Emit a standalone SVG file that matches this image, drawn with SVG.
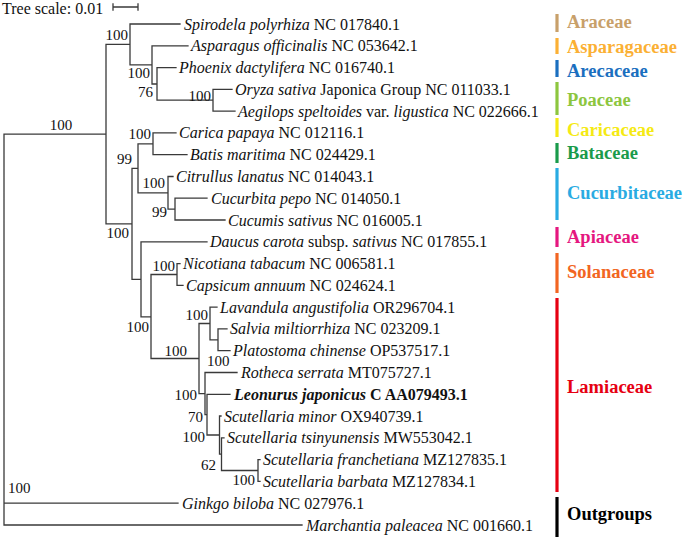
<svg xmlns="http://www.w3.org/2000/svg" width="685" height="538" viewBox="0 0 685 538">
<style>
.br{fill:none;stroke:#3a3a3a;stroke-width:1.3;stroke-linecap:square}
.lf{font-family:"Liberation Serif","Times New Roman",serif;font-size:16px;fill:#111}
.sp{font-style:italic}
.bs{font-family:"Liberation Serif","Times New Roman",serif;font-size:15px;fill:#111}
.fam{font-family:"Liberation Serif","Times New Roman",serif;font-size:18.5px;font-weight:bold}
.bar{stroke-width:3.2}
</style>
<rect width="685" height="538" fill="#fff"/>
<g id="scale">
<text class="bs" x="2" y="14" style="font-size:16px">Tree scale: 0.01</text>
<path class="br" d="M113,7H138M113,4V10M138,4V10"/>
</g>
<g id="connectors">
<path class="br" d="M4,134.1V525M4,134.1H106M4,503.2H178M4,525H302
M106,44.4V223.8M106,44.4H130M106,223.8H132
M130,24V64.9M130,24H180M130,64.9H152
M152,45.8V84M152,45.8H188M152,84H157
M157,67.6V100.2M157,67.6H176M157,100.2H213
M213,89.3V111.1M213,89.3H232M213,111.1H235
M132,168.3V279.3M132,168.3H138M132,279.3H141
M138,143.8V192.8M138,143.8H153M138,192.8H168
M153,132.9V154.7M153,132.9H176M153,154.7H187
M168,176.5V209.1M168,176.5H173M168,209.1H175
M175,198.2V220M175,198.2H207M175,220H225
M141,241.8V316.8M141,241.8H207M141,316.8H151
M151,274.5V358.5M151,274.5H177M151,358.5H199
M177,263.6V285.4M177,263.6H180M177,285.4H183
M199,323.5V393.6M199,323.5H210M199,393.6H205
M210,307.1V339.8M210,307.1H217M210,339.8H218
M218,328.9V350.7M218,328.9H227M218,350.7H230
M205,372.5V414.7M205,372.5H237M205,414.7H207
M207,394.3V435M207,394.3H230M207,435H219.5
M219.5,416V454.1M219.5,416H221M219.5,454.1H221.5
M221.5,437.8V470.5M221.5,437.8H224M221.5,470.5H258
M258,459.6V481.4M258,459.6H260M258,481.4H260"/>
</g>
<g id="supports" class="bs">
<text x="61" y="130" text-anchor="middle">100</text>
<text x="128" y="40" text-anchor="end">100</text>
<text x="150" y="78" text-anchor="end">100</text>
<text x="153" y="97" text-anchor="end">76</text>
<text x="211" y="101" text-anchor="end">100</text>
<text x="151" y="139" text-anchor="end">100</text>
<text x="132" y="164" text-anchor="end">99</text>
<text x="165" y="188" text-anchor="end">100</text>
<text x="167" y="217" text-anchor="end">99</text>
<text x="129" y="238" text-anchor="end">100</text>
<text x="175" y="271" text-anchor="end">100</text>
<text x="149" y="332" text-anchor="end">100</text>
<text x="187" y="356" text-anchor="end">100</text>
<text x="208" y="320" text-anchor="end">100</text>
<text x="207" y="366">100</text>
<text x="197" y="400" text-anchor="end">100</text>
<text x="203" y="422" text-anchor="end">70</text>
<text x="205" y="442" text-anchor="end">100</text>
<text x="216" y="470" text-anchor="end">62</text>
<text x="255" y="485" text-anchor="end">100</text>
<text x="8" y="493">100</text>
</g>
<g id="leaf-spirodela"><text class="lf" x="184" y="29.5"><tspan class="sp">Spirodela polyrhiza</tspan> NC 017840.1</text></g>
<g id="leaf-asparagus"><text class="lf" x="191" y="51.3"><tspan class="sp">Asparagus officinalis</tspan> NC 053642.1</text></g>
<g id="leaf-phoenix"><text class="lf" x="179" y="73.1"><tspan class="sp">Phoenix dactylifera</tspan> NC 016740.1</text></g>
<g id="leaf-oryza"><text class="lf" x="235" y="94.8"><tspan class="sp">Oryza sativa</tspan> Japonica Group NC 011033.1</text></g>
<g id="leaf-aegilops"><text class="lf" x="238" y="116.6"><tspan class="sp">Aegilops speltoides</tspan> var. <tspan class="sp">ligustica</tspan> NC 022666.1</text></g>
<g id="leaf-carica"><text class="lf" x="179" y="138.4"><tspan class="sp">Carica papaya</tspan> NC 012116.1</text></g>
<g id="leaf-batis"><text class="lf" x="190" y="160.2"><tspan class="sp">Batis maritima</tspan> NC 024429.1</text></g>
<g id="leaf-citrullus"><text class="lf" x="176" y="182"><tspan class="sp">Citrullus lanatus</tspan> NC 014043.1</text></g>
<g id="leaf-cucurbita"><text class="lf" x="211" y="203.7"><tspan class="sp">Cucurbita pepo</tspan> NC 014050.1</text></g>
<g id="leaf-cucumis"><text class="lf" x="228" y="225.5"><tspan class="sp">Cucumis sativus</tspan> NC 016005.1</text></g>
<g id="leaf-daucus"><text class="lf" x="210" y="247.3"><tspan class="sp">Daucus carota</tspan> subsp. <tspan class="sp">sativus</tspan> NC 017855.1</text></g>
<g id="leaf-nicotiana"><text class="lf" x="183" y="269.1"><tspan class="sp">Nicotiana tabacum</tspan> NC 006581.1</text></g>
<g id="leaf-capsicum"><text class="lf" x="186" y="290.9"><tspan class="sp">Capsicum annuum</tspan> NC 024624.1</text></g>
<g id="leaf-lavandula"><text class="lf" x="220" y="312.6"><tspan class="sp">Lavandula angustifolia</tspan> OR296704.1</text></g>
<g id="leaf-salvia"><text class="lf" x="230" y="334.4"><tspan class="sp">Salvia miltiorrhiza</tspan> NC 023209.1</text></g>
<g id="leaf-platostoma"><text class="lf" x="233" y="356.2"><tspan class="sp">Platostoma chinense</tspan> OP537517.1</text></g>
<g id="leaf-rotheca"><text class="lf" x="241" y="378"><tspan class="sp">Rotheca serrata</tspan> MT075727.1</text></g>
<g id="leaf-leonurus"><text class="lf" x="234" y="399.8" font-weight="bold"><tspan class="sp">Leonurus japonicus</tspan> C AA079493.1</text></g>
<g id="leaf-scut-minor"><text class="lf" x="224" y="421.5"><tspan class="sp">Scutellaria minor</tspan> OX940739.1</text></g>
<g id="leaf-scut-tsinyunensis"><text class="lf" x="227" y="443.3"><tspan class="sp">Scutellaria tsinyunensis</tspan> MW553042.1</text></g>
<g id="leaf-scut-franchetiana"><text class="lf" x="263" y="465.1"><tspan class="sp">Scutellaria franchetiana</tspan> MZ127835.1</text></g>
<g id="leaf-scut-barbata"><text class="lf" x="263" y="486.9"><tspan class="sp">Scutellaria barbata</tspan> MZ127834.1</text></g>
<g id="leaf-ginkgo"><text class="lf" x="182" y="508.7"><tspan class="sp">Ginkgo biloba</tspan> NC 027976.1</text></g>
<g id="leaf-marchantia"><text class="lf" x="306" y="530.5"><tspan class="sp">Marchantia paleacea</tspan> NC 001660.1</text></g>
<g id="fam-araceae"><line class="bar" x1="557" y1="14" x2="557" y2="32" stroke="#C8A06A"/><text class="fam" x="567" y="28" fill="#C8A06A">Araceae</text></g>
<g id="fam-asparagaceae"><line class="bar" x1="557" y1="38" x2="557" y2="54" stroke="#FBB034"/><text class="fam" x="567" y="53" fill="#FBB034">Asparagaceae</text></g>
<g id="fam-arecaceae"><line class="bar" x1="557" y1="60" x2="557" y2="77" stroke="#1B6FBF"/><text class="fam" x="567" y="77" fill="#1B6FBF">Arecaceae</text></g>
<g id="fam-poaceae"><line class="bar" x1="557" y1="82" x2="557" y2="115" stroke="#8DC63F"/><text class="fam" x="567" y="106" fill="#8DC63F">Poaceae</text></g>
<g id="fam-caricaceae"><line class="bar" x1="557" y1="118" x2="557" y2="137" stroke="#F5EA14"/><text class="fam" x="567" y="136" fill="#F5EA14">Caricaceae</text></g>
<g id="fam-bataceae"><line class="bar" x1="557" y1="143" x2="557" y2="163" stroke="#1A9B4B"/><text class="fam" x="567" y="159" fill="#1A9B4B">Bataceae</text></g>
<g id="fam-cucurbitaceae"><line class="bar" x1="557" y1="168" x2="557" y2="220" stroke="#29ABE2"/><text class="fam" x="567" y="199" fill="#29ABE2">Cucurbitaceae</text></g>
<g id="fam-apiaceae"><line class="bar" x1="557" y1="227" x2="557" y2="247" stroke="#E5177F"/><text class="fam" x="567" y="243" fill="#E5177F">Apiaceae</text></g>
<g id="fam-solanaceae"><line class="bar" x1="557" y1="253" x2="557" y2="293" stroke="#F26522"/><text class="fam" x="567" y="278" fill="#F26522">Solanaceae</text></g>
<g id="fam-lamiaceae"><line class="bar" x1="557" y1="298" x2="557" y2="492" stroke="#E60012"/><text class="fam" x="567" y="393" fill="#E60012">Lamiaceae</text></g>
<g id="fam-outgroups"><line class="bar" x1="557" y1="497" x2="557" y2="537" stroke="#000"/><text class="fam" x="567" y="520" fill="#000">Outgroups</text></g>
</svg>
